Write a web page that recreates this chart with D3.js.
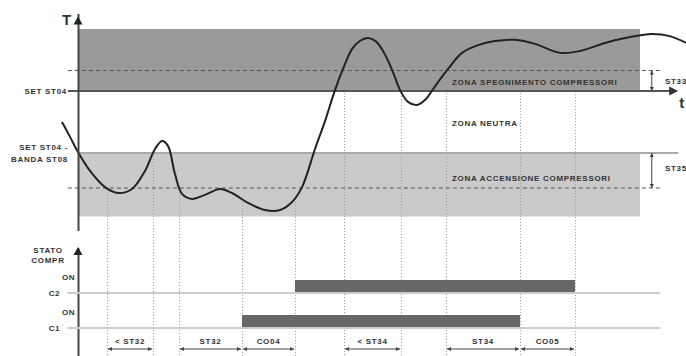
<!DOCTYPE html>
<html>
<head>
<meta charset="utf-8">
<script src="https://cdn.jsdelivr.net/npm/d3@7"></script>
<style>
  body { margin: 0; background: #fff; }
  text { font-family: "Liberation Sans", Arial, sans-serif; font-weight: bold; fill: #333; }
</style>
</head>
<body>
<div id="chart"></div>
<script>
var w = 686;
var h = 356;

// set points (temperature units)
var setST04 = 6;
var bandST08 = 2;
var st33 = 0.66;
var st35 = 1.13;
var zoneTop = 8;
var zoneBottom = 1.95;

// temperature curve: [time, temperature]
var curveTime = [-2.85, -1.42, 0, 2.14, 4.8, 7.12, 9.61, 11.92, 13.7, 14.95, 16.01, 17.26, 18.51, 20.28, 22.6, 25.27, 27.4, 30.25, 33.27, 35.94, 38.08, 39.86, 42.17, 43.95, 45.73, 47.15, 48.75, 50.2, 51.6, 53.0, 54.4, 56.05, 57.3, 58.72, 60.32, 61.92, 63.17, 65.84, 68.33, 71.17, 74.2, 77.76, 81.32, 85.77, 89.32, 93.77, 98.22, 102.1, 105.3, 108.2];
var curveTemp = [5.0, 4.52, 4.03, 3.42, 2.9, 2.71, 2.84, 3.42, 4.13, 4.39, 4.23, 3.32, 2.68, 2.52, 2.65, 2.84, 2.71, 2.39, 2.16, 2.16, 2.42, 2.9, 4.13, 5.03, 6.03, 6.71, 7.35, 7.62, 7.71, 7.6, 7.25, 6.61, 6.03, 5.65, 5.55, 5.74, 6.06, 6.71, 7.23, 7.48, 7.61, 7.65, 7.52, 7.23, 7.29, 7.55, 7.74, 7.84, 7.77, 7.55];

// events (vertical dotted lines): time and temperature where they start
var eventTime = [5.16, 13.35, 17.97, 29.18, 38.61, 47.33, 57.47, 65.48, 78.65, 88.43];
var eventTemp = [2.84, 4.0, 2.94, 2.61, 2.52, 6.71, 6.03, 6.71, 7.68, 7.35];

// zone labels
var zoneNames = ["ZONA SPEGNIMENTO COMPRESSORI", "ZONA NEUTRA", "ZONA ACCENSIONE COMPRESSORI"];
var zoneTemps = [6.3, 4.95, 3.2];

// compressors state
var compressors = ["C2", "C1"];
var onStart = [38.61, 29.18];
var onEnd = [88.43, 78.65];

// timing intervals
var intervalLabels = ["< ST32", "ST32", "CO04", "< ST34", "ST34", "CO05"];
var intervalFrom = [5.16, 17.97, 29.18, 47.33, 65.48, 78.65];
var intervalTo = [13.35, 29.18, 38.61, 57.47, 78.65, 88.43];

var xScale = d3.scaleLinear().domain([0, 100]).range([78, 640]);
var yScale = d3.scaleLinear().domain([1.5, 8.5]).range([230.5, 13.5]);
var rowScale = d3.scalePoint().domain(compressors).range([293, 328]);
var stateScale = d3.scaleLinear().domain([0, 1]).range([0, -13]);

var svg = d3.select("#chart").append("svg")
    .attr("width", w)
    .attr("height", h);

var defs = svg.append("defs");
defs.append("marker")
    .attr("id", "ah")
    .attr("viewBox", "0 0 6 6")
    .attr("refX", 6).attr("refY", 3)
    .attr("markerWidth", 4).attr("markerHeight", 4)
    .attr("markerUnits", "userSpaceOnUse")
    .attr("orient", "auto-start-reverse")
    .append("path").attr("d", "M0,0L6,3L0,6Z").attr("fill", "#444");

//Zones
svg.append("rect")
    .attr("x", xScale(0)).attr("y", yScale(zoneTop))
    .attr("width", xScale(100) - xScale(0))
    .attr("height", yScale(setST04) - yScale(zoneTop))
    .attr("fill", "#9c9a98");
svg.append("rect")
    .attr("x", xScale(0)).attr("y", yScale(setST04 - bandST08))
    .attr("width", xScale(100) - xScale(0))
    .attr("height", yScale(zoneBottom) - yScale(setST04 - bandST08))
    .attr("fill", "#cacaca");

// band top line
svg.append("line")
    .attr("x1", xScale(0)).attr("x2", xScale(106.8))
    .attr("y1", yScale(setST04 - bandST08)).attr("y2", yScale(setST04 - bandST08))
    .attr("stroke", "#aaa").attr("stroke-width", 2);

// dashed lines
[setST04 + st33, setST04 - bandST08 - st35].forEach(function(v) {
    svg.append("line")
        .attr("x1", xScale(-1.8)).attr("x2", xScale(103.6))
        .attr("y1", yScale(v)).attr("y2", yScale(v))
        .attr("stroke", "#555").attr("stroke-width", 1)
        .attr("stroke-dasharray", "4,3");
});

// event lines
svg.selectAll(".event")
    .data(eventTime)
    .enter()
    .append("line")
    .attr("class", "event")
    .attr("x1", function(d) { return Math.round(xScale(d)) + 0.5; })
    .attr("x2", function(d) { return Math.round(xScale(d)) + 0.5; })
    .attr("y1", function(d, i) { return yScale(eventTemp[i]); })
    .attr("y2", h)
    .attr("stroke", "#999").attr("stroke-width", 1)
    .attr("stroke-dasharray", "1,2");

// SET line + t axis
svg.append("line")
    .attr("x1", xScale(-1.8)).attr("x2", xScale(105.4))
    .attr("y1", yScale(setST04)).attr("y2", yScale(setST04))
    .attr("stroke", "#555").attr("stroke-width", 2);
svg.append("path")
    .attr("d", "M" + xScale(106.8) + "," + yScale(setST04) + "l-9,-4.5v9z")
    .attr("fill", "#333");
svg.append("text").attr("x", xScale(106.8) + 1).attr("y", 108)
    .attr("font-size", 15).text("t");

// ST33 / ST35 markers
var markX = xScale(102.1);
[[setST04, setST04 + st33], [setST04 - bandST08, setST04 - bandST08 - st35]].forEach(function(p) {
    svg.append("line")
        .attr("x1", markX).attr("x2", markX)
        .attr("y1", yScale(p[0])).attr("y2", yScale(p[1]))
        .attr("stroke", "#444").attr("stroke-width", 1)
        .attr("marker-start", "url(#ah)")
        .attr("marker-end", "url(#ah)");
});
svg.append("text").attr("x", 665).attr("y", yScale(setST04 + st33 / 2)).attr("dy", "0.35em")
    .attr("font-size", 8).attr("letter-spacing", 0.7).text("ST33");
svg.append("text").attr("x", 665).attr("y", yScale(setST04 - bandST08 - st35 / 2) - 2).attr("dy", "0.35em")
    .attr("font-size", 8).attr("letter-spacing", 0.7).text("ST35");

// zone labels
svg.selectAll(".zone")
    .data(zoneNames)
    .enter()
    .append("text")
    .attr("class", "zone")
    .attr("x", 452)
    .attr("y", function(d, i) { return yScale(zoneTemps[i]); })
    .attr("dy", "0.35em")
    .attr("font-size", 8).attr("letter-spacing", 0.7)
    .text(function(d) { return d; });

// temperature curve
var line = d3.line()
    .x(function(d) { return xScale(d[0]); })
    .y(function(d) { return yScale(d[1]); })
    .curve(d3.curveCatmullRom);
svg.append("path")
    .datum(d3.zip(curveTime, curveTemp))
    .attr("d", line)
    .attr("fill", "none")
    .attr("stroke", "#222")
    .attr("stroke-width", 2);

// T axis
svg.append("g")
    .attr("class", "y axis")
    .attr("transform", "translate(" + xScale(0) + ",0)")
    .call(d3.axisLeft(yScale).tickValues([]).tickSizeOuter(0))
    .select(".domain").attr("stroke", "#444").attr("stroke-width", 2);
svg.append("path")
    .attr("d", "M" + xScale(0) + "," + (yScale(8.5) + 3) + "l-4.5,8h9z")
    .attr("fill", "#222");
svg.append("text").attr("x", 62).attr("y", 25).attr("font-size", 15).text("T");

// left labels
svg.append("text").attr("x", 67).attr("y", yScale(setST04)).attr("dy", "0.35em")
    .attr("text-anchor", "end").attr("font-size", 8).attr("letter-spacing", 0.7).text("SET ST04");
svg.append("text").attr("x", 68).attr("y", yScale(setST04 - bandST08) - 6).attr("dy", "0.35em")
    .attr("text-anchor", "end").attr("font-size", 8).attr("letter-spacing", 0.7).text("SET ST04 -");
svg.append("text").attr("x", 68).attr("y", yScale(setST04 - bandST08) + 6).attr("dy", "0.35em")
    .attr("text-anchor", "end").attr("font-size", 8).attr("letter-spacing", 0.7).text("BANDA ST08");

// ---- compressor state chart ----
var stateAxis = d3.scaleLinear().domain([0, 1]).range([h + 2, 248]);
svg.append("g")
    .attr("transform", "translate(" + xScale(0) + ",0)")
    .call(d3.axisLeft(stateAxis).tickValues([]).tickSizeOuter(0))
    .select(".domain").attr("stroke", "#444").attr("stroke-width", 2);
svg.append("path")
    .attr("d", "M" + xScale(0) + ",247l-4.5,8h9z")
    .attr("fill", "#222");
svg.append("text").attr("x", 48).attr("y", 250).attr("dy", "0.35em")
    .attr("text-anchor", "middle").attr("font-size", 8).attr("letter-spacing", 0.7).text("STATO");
svg.append("text").attr("x", 48).attr("y", 260).attr("dy", "0.35em")
    .attr("text-anchor", "middle").attr("font-size", 8).attr("letter-spacing", 0.7).text("COMPR");

// baselines
svg.selectAll(".base")
    .data(compressors)
    .enter()
    .append("line")
    .attr("class", "base")
    .attr("x1", xScale(-1.9)).attr("x2", xScale(103.6))
    .attr("y1", function(d) { return rowScale(d); })
    .attr("y2", function(d) { return rowScale(d); })
    .attr("stroke", "#ccc").attr("stroke-width", 2);

// bars
svg.selectAll(".bar")
    .data(compressors)
    .enter()
    .append("rect")
    .attr("class", "bar")
    .attr("x", function(d, i) { return xScale(onStart[i]); })
    .attr("width", function(d, i) { return xScale(onEnd[i]) - xScale(onStart[i]); })
    .attr("y", function(d) { return rowScale(d) + stateScale(1); })
    .attr("height", stateScale(0) - stateScale(1) - 1)
    .attr("fill", "#676767");

// row labels
svg.selectAll(".rowlab")
    .data(compressors)
    .enter()
    .append("text")
    .attr("class", "rowlab")
    .attr("x", 60)
    .attr("y", function(d) { return rowScale(d); })
    .attr("dy", "0.35em")
    .attr("text-anchor", "end").attr("font-size", 8).attr("letter-spacing", 0.5)
    .text(function(d) { return d; });
svg.selectAll(".onlab")
    .data(compressors)
    .enter()
    .append("text")
    .attr("class", "onlab")
    .attr("x", 75)
    .attr("y", function(d) { return rowScale(d) + stateScale(1.2); })
    .attr("dy", "0.35em")
    .attr("text-anchor", "end").attr("font-size", 8).attr("letter-spacing", 0.5)
    .text("ON");

// intervals
svg.selectAll(".interval")
    .data(intervalLabels)
    .enter()
    .append("line")
    .attr("class", "interval")
    .attr("x1", function(d, i) { return xScale(intervalFrom[i]) + 1; })
    .attr("x2", function(d, i) { return xScale(intervalTo[i]) - 1; })
    .attr("y1", 349).attr("y2", 349)
    .attr("stroke", "#444").attr("stroke-width", 1)
    .attr("marker-start", "url(#ah)")
    .attr("marker-end", "url(#ah)");
svg.selectAll(".intlab")
    .data(intervalLabels)
    .enter()
    .append("text")
    .attr("class", "intlab")
    .attr("x", function(d, i) { return (xScale(intervalFrom[i]) + xScale(intervalTo[i])) / 2; })
    .attr("y", 341)
    .attr("dy", "0.35em")
    .attr("text-anchor", "middle").attr("font-size", 8).attr("letter-spacing", 0.7)
    .text(function(d) { return d; });
</script>
</body>
</html>
